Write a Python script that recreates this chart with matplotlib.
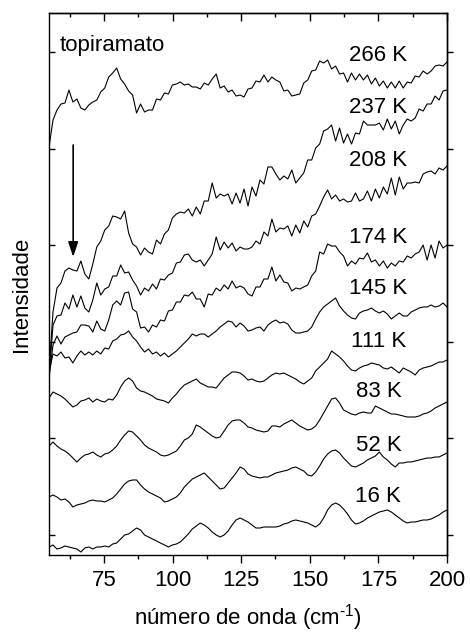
import numpy as np
import matplotlib
matplotlib.use('Agg')
import matplotlib.pyplot as plt
from matplotlib.ticker import MultipleLocator

plt.rcParams['font.family'] = ['Liberation Sans', 'DejaVu Sans']
plt.rcParams['mathtext.fontset'] = 'custom'
plt.rcParams['mathtext.rm'] = 'Liberation Sans'
plt.rcParams['mathtext.default'] = 'rm'

# ------------------------------------------------------------
# dados (espectros Raman empilhados, unidades arbitrárias)
# ------------------------------------------------------------
wavenumber = np.linspace(55, 200, 101)   # cm-1

int_266 = [413, 440, 450, 456, 457, 470, 458, 461, 452, 450,
           455, 458, 460, 468, 472, 483, 487, 492, 481, 476,
           469, 465, 447, 456, 448, 450, 450, 461, 460, 467,
           466, 475, 476, 478, 475, 476, 473, 473, 471, 477,
           475, 481, 486, 472, 474, 468, 470, 464, 465, 463,
           471, 472, 479, 478, 485, 478, 483, 480, 478, 469,
           470, 464, 465, 466, 477, 480, 489, 490, 499, 497,
           500, 491, 494, 486, 487, 478, 487, 480, 486, 480,
           485, 476, 482, 474, 479, 472, 478, 472, 479, 472,
           478, 477, 484, 483, 489, 486, 489, 494, 495, 494,
           498]

int_237 = [188, 248, 272, 277, 289, 292, 290, 289, 299, 286,
           281, 296, 313, 319, 330, 334, 344, 343, 341, 349,
           327, 316, 313, 305, 312, 308, 306, 320, 316, 326,
           330, 342, 346, 348, 347, 351, 344, 353, 346, 359,
           359, 377, 362, 366, 364, 366, 356, 367, 357, 371,
           354, 373, 364, 380, 376, 393, 393, 386, 380, 384,
           381, 390, 377, 382, 387, 400, 400, 412, 416, 429,
           431, 435, 419, 432, 417, 426, 416, 427, 426, 439,
           435, 435, 435, 437, 430, 441, 431, 439, 426, 435,
           441, 439, 442, 451, 449, 456, 456, 464, 460, 469,
           470]

int_208 = [182, 235, 244, 245, 257, 251, 265, 253, 264, 252,
           248, 260, 277, 265, 271, 273, 284, 284, 295, 287,
           288, 280, 274, 265, 272, 269, 276, 271, 281, 280,
           285, 287, 297, 298, 305, 306, 300, 298, 300, 294,
           300, 306, 323, 310, 318, 312, 317, 309, 313, 311,
           311, 313, 319, 316, 328, 324, 341, 328, 332, 331,
           334, 324, 335, 327, 339, 333, 344, 346, 354, 363,
           370, 361, 365, 359, 361, 358, 359, 367, 359, 361,
           369, 359, 371, 362, 373, 366, 382, 365, 383, 371,
           377, 377, 378, 377, 386, 388, 389, 386, 392, 390,
           394]

int_174 = [182, 215, 224, 216, 223, 225, 227, 228, 235, 235,
           234, 228, 239, 231, 229, 240, 255, 259, 255, 267,
           268, 251, 248, 232, 233, 228, 235, 233, 240, 239,
           249, 250, 258, 258, 265, 264, 268, 261, 261, 253,
           266, 265, 272, 269, 275, 271, 279, 272, 274, 272,
           266, 264, 273, 273, 281, 281, 293, 279, 285, 278,
           277, 269, 272, 271, 273, 275, 284, 289, 308, 306,
           316, 314, 314, 308, 304, 294, 299, 296, 302, 301,
           307, 298, 300, 294, 299, 292, 297, 294, 299, 298,
           304, 302, 306, 308, 315, 300, 315, 302, 319, 312,
           315]

int_145 = [188, 206, 204, 208, 202, 203, 197, 204, 209, 205,
           208, 205, 209, 206, 212, 211, 219, 221, 225, 226,
           229, 223, 219, 213, 208, 211, 206, 208, 204, 207,
           203, 206, 209, 213, 217, 221, 226, 224, 226, 226,
           223, 226, 229, 233, 236, 239, 238, 233, 237, 234,
           229, 230, 232, 233, 229, 235, 238, 240, 237, 238,
           236, 230, 227, 227, 228, 229, 233, 241, 248, 253,
           256, 259, 262, 254, 249, 245, 242, 241, 247, 249,
           250, 252, 249, 247, 249, 246, 241, 244, 247, 244,
           244, 248, 250, 252, 253, 253, 255, 253, 254, 257,
           253]

int_111 = [162, 168, 166, 164, 161, 157, 153, 155, 159, 160,
           162, 158, 161, 159, 158, 161, 160, 165, 173, 179,
           182, 179, 172, 169, 168, 166, 164, 161, 160, 159,
           157, 162, 166, 171, 175, 177, 179, 181, 177, 175,
           173, 173, 172, 177, 182, 185, 188, 188, 187, 184,
           180, 181, 179, 178, 179, 182, 185, 187, 186, 187,
           185, 183, 181, 178, 176, 179, 182, 189, 193, 197,
           201, 209, 206, 203, 199, 194, 190, 189, 192, 194,
           195, 197, 196, 195, 192, 191, 193, 190, 187, 192,
           190, 188, 185, 190, 192, 193, 194, 196, 198, 198,
           200]

int_83 = [114, 118, 114, 111, 109, 106, 102, 98, 102, 105,
          106, 108, 105, 103, 106, 107, 110, 114, 120, 125,
          129, 128, 124, 120, 115, 112, 110, 108, 105, 104,
          105, 107, 109, 114, 120, 122, 126, 135, 133, 130,
          127, 124, 122, 123, 129, 135, 139, 140, 140, 137,
          133, 132, 130, 129, 128, 129, 134, 134, 133, 136,
          138, 140, 137, 134, 132, 130, 131, 134, 140, 147,
          154, 161, 162, 157, 150, 148, 146, 145, 147, 148,
          147, 147, 154, 152, 150, 148, 146, 146, 145, 144,
          143, 143, 143, 144, 146, 147, 149, 152, 154, 156,
          158]

int_52 = [63, 65, 63, 60, 61, 58, 53, 55, 56, 57,
          59, 60, 59, 59, 58, 60, 62, 66, 71, 76,
          79, 80, 80, 75, 71, 68, 66, 64, 62, 58,
          59, 61, 63, 67, 73, 77, 81, 83, 85, 87,
          83, 79, 75, 71, 72, 77, 82, 87, 93, 91,
          86, 84, 83, 82, 83, 83, 85, 87, 88, 89,
          90, 92, 93, 91, 89, 85, 84, 88, 94, 101,
          106, 109, 110, 107, 102, 98, 94, 93, 95, 97,
          100, 102, 104, 108, 103, 100, 96, 93, 97, 97,
          98, 98, 99, 100, 101, 102, 102, 103, 103, 105,
          107]

int_16 = [13, 15, 11, 12, 14, 13, 12, 11, 8, 12,
          13, 11, 13, 13, 14, 13, 16, 17, 21, 25,
          26, 29, 32, 30, 25, 23, 21, 19, 17, 15,
          13, 15, 16, 18, 22, 26, 31, 34, 37, 35,
          32, 28, 25, 23, 25, 29, 35, 40, 42, 40,
          38, 35, 32, 32, 33, 33, 33, 33, 34, 36,
          37, 39, 40, 39, 38, 37, 35, 33, 36, 42,
          50, 55, 57, 55, 51, 46, 40, 36, 37, 39,
          42, 44, 46, 48, 49, 50, 48, 45, 42, 39,
          37, 38, 38, 39, 40, 40, 41, 43, 45, 48,
          50]

temperatures = ['266 K', '237 K', '208 K', '174 K', '145 K',
                '111 K', '83 K', '52 K', '16 K']
spectra = [int_266, int_237, int_208, int_174, int_145,
           int_111, int_83, int_52, int_16]
label_y = [505, 453, 400, 323, 272, 219, 168, 114, 63]

# ------------------------------------------------------------
# figura
# ------------------------------------------------------------
fig = plt.figure(figsize=(4.7, 6.35), dpi=100)
ax = fig.add_axes([0.1043, 0.1260, 0.8468, 0.8535])

for spec, temp, ly in zip(spectra, temperatures, label_y):
    ax.plot(wavenumber, spec, color='black', lw=0.8)
    ax.text(175, ly, temp, ha='center', va='center', fontsize=16)

ax.text(58.9, 515, 'topiramato', ha='left', va='center', fontsize=16)

# seta indicando a banda que some com a temperatura
ax.annotate('', xy=(63.8, 303), xytext=(63.8, 415),
            arrowprops=dict(arrowstyle='-|>,head_length=0.45,head_width=0.15',
                            mutation_scale=20, lw=1.2, color='black',
                            shrinkA=0, shrinkB=0))

ax.set_xlim(55, 200)
ax.set_ylim(5, 547)
ax.xaxis.set_major_locator(MultipleLocator(25))
ax.xaxis.set_minor_locator(MultipleLocator(12.5))
ax.set_yticks([25, 121.6, 218.2, 314.8, 411.4, 508])
ax.set_yticklabels([])

ax.tick_params(axis='x', which='major', direction='out', length=5.8,
               width=1, labelsize=16, pad=5)
ax.tick_params(axis='x', which='minor', direction='out', length=3, width=1)
ax.tick_params(axis='y', direction='in', length=4, width=1)

# eixos espelhados (topo e direita)
top = ax.secondary_xaxis('top')
top.xaxis.set_major_locator(MultipleLocator(25))
top.xaxis.set_minor_locator(MultipleLocator(12.5))
top.tick_params(which='major', direction='in', length=5.8, width=1,
                labeltop=False)
top.tick_params(which='minor', direction='in', length=3, width=1)

right = ax.secondary_yaxis('right')
right.set_yticks([25, 121.6, 218.2, 314.8, 411.4, 508])
right.tick_params(direction='out', length=4, width=1, labelright=False)

for sp in ax.spines.values():
    sp.set_linewidth(1.0)
top.spines['top'].set_linewidth(1.0)
right.spines['right'].set_linewidth(1.0)

ax.set_xlabel('número de onda (cm$^{\u20101}$)', fontsize=16, labelpad=8)
ax.set_ylabel('Intensidade', fontsize=16)
ax.yaxis.set_label_coords(-0.043, 0.48)

fig.savefig('out.png', dpi=100)
